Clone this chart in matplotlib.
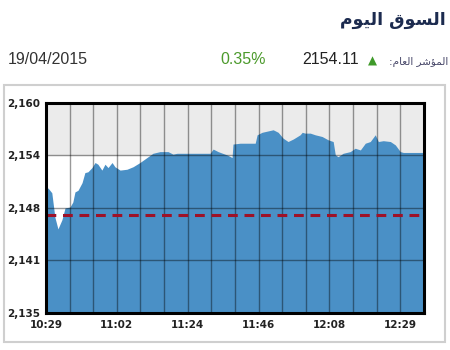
import matplotlib
matplotlib.use("Agg")
import matplotlib.pyplot as plt
from matplotlib.patches import Rectangle

# intraday index, x = position in time slots (16 slots across the chart)
slot_x = [0, 0.08, 0.25, 0.38, 0.51, 0.68, 0.81, 1.02, 1.14, 1.23, 1.36, 1.53, 1.65,
          1.78, 1.95, 2.08, 2.20, 2.37, 2.50, 2.63, 2.80, 2.92, 3.14, 3.43, 3.69, 3.98,
          4.28, 4.53, 4.83, 5.17, 5.38, 5.55, 6.20, 6.95, 7.08, 7.29, 7.67, 7.88, 7.92,
          8.22, 8.86, 8.94, 9.15, 9.62, 9.83, 10.04, 10.25, 10.47, 10.76, 10.85, 10.97,
          11.19, 11.40, 11.69, 11.95, 12.16, 12.25, 12.37, 12.58, 12.88, 13.09, 13.31,
          13.52, 13.73, 13.94, 14.07, 14.28, 14.58, 14.79, 15.00, 15.13, 16.00]
index_vals = [2149.0, 2149.9, 2149.3, 2146.4, 2145.0, 2146.1, 2147.5, 2147.6, 2148.2,
              2149.4, 2149.6, 2150.5, 2151.7, 2151.8, 2152.3, 2152.9, 2152.7, 2152.0,
              2152.7, 2152.3, 2152.9, 2152.4, 2152.0, 2152.1, 2152.4, 2152.9, 2153.5,
              2154.0, 2154.2, 2154.2, 2153.9, 2154.0, 2154.0, 2154.0, 2154.5, 2154.2,
              2153.8, 2153.5, 2155.1, 2155.2, 2155.2, 2156.2, 2156.5, 2156.8, 2156.5,
              2155.8, 2155.4, 2155.7, 2156.2, 2156.5, 2156.4, 2156.4, 2156.2, 2156.0,
              2155.6, 2155.4, 2153.8, 2153.6, 2154.0, 2154.2, 2154.6, 2154.4, 2155.2,
              2155.4, 2156.2, 2155.4, 2155.5, 2155.4, 2155.0, 2154.2, 2154.1, 2154.1]
prev_close = 2146.6

y_ticks = [2135, 2141.25, 2147.5, 2153.75, 2160]
y_labels = ["2,135", "2,141", "2,148", "2,154", "2,160"]
x_ticks = [0, 3, 6, 9, 12, 15]
x_labels = ["10:29", "11:02", "11:24", "11:46", "12:08", "12:29"]

title_ar = "ﻡﻮﻴﻟﺍ ﻕﻮﺴﻟﺍ"
label_ar = ":ﻡﺎﻌﻟﺍ ﺮﺷﺆﻤﻟﺍ"
date_str = "19/04/2015"
last_val = "2154.11"
change_str = "0.35%"

fig = plt.figure(figsize=(4.5, 3.5), dpi=100)
fig.patch.set_facecolor("white")

# outer panel border
fig.patches.append(Rectangle((0.009, 0.023), 0.98, 0.733, transform=fig.transFigure,
                             fill=False, edgecolor="#cfcfcf", lw=1.5))

ax = fig.add_axes([0.102, 0.106, 0.84, 0.6])
ax.set_xlim(0, 16)
ax.set_ylim(2135, 2160)
ax.axhspan(2153.75, 2160, color="#ebebeb", zorder=0)
ax.fill_between(slot_x, index_vals, 2135, color="#4a90c6", lw=0, zorder=1)
ax.axhline(prev_close, color="#9e1228", lw=2.2, dashes=(3.2, 2.2), zorder=3)

for gx in range(1, 16):
    ax.axvline(gx, color="black", alpha=0.4, lw=1, zorder=2)
for gy in y_ticks[1:-1]:
    ax.axhline(gy, color="black", alpha=0.4, lw=1, zorder=2)

for s in ax.spines.values():
    s.set_linewidth(2.2)
    s.set_color("black")
    s.set_zorder(4)

ax.set_yticks(y_ticks)
ax.set_yticklabels(y_labels)
ax.set_xticks(x_ticks)
ax.set_xticklabels(x_labels)
ax.tick_params(length=0, labelsize=7.5, colors="#222222")
ax.tick_params(axis="x", pad=5)
ax.tick_params(axis="y", pad=4)
for t in ax.get_xticklabels() + ax.get_yticklabels():
    t.set_fontweight("bold")

# header
fig.text(0.99, 0.943, title_ar, ha="right", va="center", fontsize=12.5,
         fontweight="bold", color="#1c2b4f", family="DejaVu Sans")
fig.text(0.018, 0.829, date_str, ha="left", va="center", fontsize=11.5,
         color="#333333", family="Liberation Sans")
fig.text(0.54, 0.829, change_str, ha="center", va="center", fontsize=11.5,
         color="#4c9a2c", family="Liberation Sans")
fig.text(0.797, 0.829, last_val, ha="right", va="center", fontsize=11.5,
         color="#222222", family="Liberation Sans")
fig.text(0.828, 0.826, "▲", ha="center", va="center", fontsize=8.5, color="#3f9a2a",
         family="DejaVu Sans")
fig.text(0.997, 0.824, label_ar, ha="right", va="center", fontsize=7.5,
         color="#444466", family="DejaVu Sans")

fig.savefig("out.png", dpi=100)
